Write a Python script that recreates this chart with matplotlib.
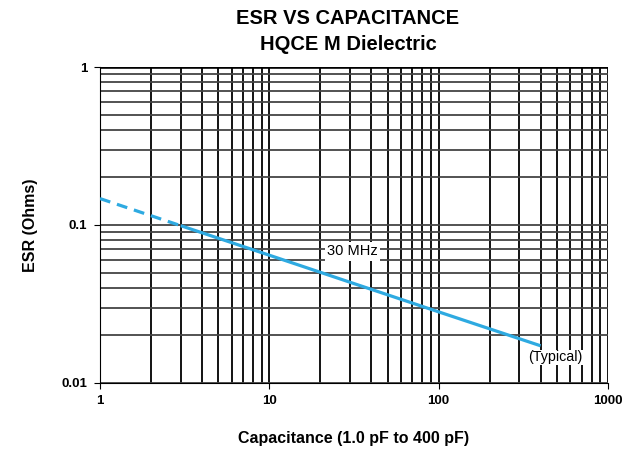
import matplotlib
matplotlib.use("Agg")
import matplotlib.pyplot as plt
from matplotlib.ticker import FixedLocator, NullFormatter, NullLocator

plt.rcParams['font.family'] = ['Liberation Sans', 'DejaVu Sans']

# data
cap_dashed = [1, 3]
esr_dashed = [0.147, 0.099]
cap_solid = [3, 10, 30, 100, 400]
esr_solid = [0.099, 0.0644, 0.0434, 0.0282, 0.0172]

x_ticks = [1, 10, 100, 1000]
x_labels = ['1', '10', '100', '1000']
y_ticks = [0.01, 0.1, 1]
y_labels = ['0.01', '0.1', '1']

blue = '#2eaae1'

fig = plt.figure(figsize=(6.26, 4.5), dpi=100)
ax = fig.add_axes([0.1597, 0.1489, 0.8115, 0.7022])

ax.set_xscale('log')
ax.set_yscale('log')
ax.set_xlim(1, 1000)
ax.set_ylim(0.01, 1)

# grid lines: every 1..9 per decade
xgrid = [m * 10**d for d in range(3) for m in range(1, 10)] + [1000]
ygrid = [m * 10.0**d for d in (-2, -1) for m in range(1, 10)] + [1]
for xv in xgrid:
    ax.axvline(xv, color='black', lw=1.3, zorder=1)
for yv in ygrid:
    ax.axhline(yv, color='#444444', lw=1.3, zorder=1)
ax.axhline(1, color='black', lw=2.6, zorder=2)

ax.plot(cap_dashed, esr_dashed, color=blue, lw=2.3, ls=(0, (3.4, 2.2)), zorder=3)
ax.plot(cap_solid, esr_solid, color=blue, lw=2.3, zorder=3, solid_capstyle='butt')

ax.text(31, 0.068, '30 MHz', fontsize=10.5, ha='center', va='center',
        bbox=dict(facecolor='white', edgecolor='none', pad=1.5), zorder=4)
ax.text(488, 0.0145, '(Typical)', fontsize=10.3, ha='center', va='center',
        bbox=dict(facecolor='white', edgecolor='none', pad=0.5), zorder=4)

ax.xaxis.set_major_locator(FixedLocator(x_ticks))
ax.xaxis.set_minor_locator(NullLocator())
ax.xaxis.set_minor_formatter(NullFormatter())
ax.set_xticklabels(x_labels)
ax.yaxis.set_major_locator(FixedLocator(y_ticks))
ax.yaxis.set_minor_locator(NullLocator())
ax.yaxis.set_minor_formatter(NullFormatter())
ax.set_yticklabels(y_labels)
ax.tick_params(axis='both', length=4, width=0.8, labelsize=9.5, pad=5)
for lab in ax.get_xticklabels() + ax.get_yticklabels():
    lab.set_fontweight('bold')

for s in ['top', 'right']:
    ax.spines[s].set_visible(False)
ax.spines['left'].set_linewidth(0.8)
ax.spines['bottom'].set_linewidth(0.8)

ax.set_xlabel('Capacitance (1.0 pF to 400 pF)', fontsize=11.5, fontweight='bold', labelpad=17)
ax.set_ylabel('ESR (Ohms)', fontsize=11.5, fontweight='bold', labelpad=17)
fig.text(0.556, 0.96, 'ESR VS CAPACITANCE', ha='center', va='center',
         fontsize=14.5, fontweight='bold')
fig.text(0.556, 0.902, 'HQCE M Dielectric', ha='center', va='center',
         fontsize=14.5, fontweight='bold')

fig.savefig('out.png', dpi=100)
